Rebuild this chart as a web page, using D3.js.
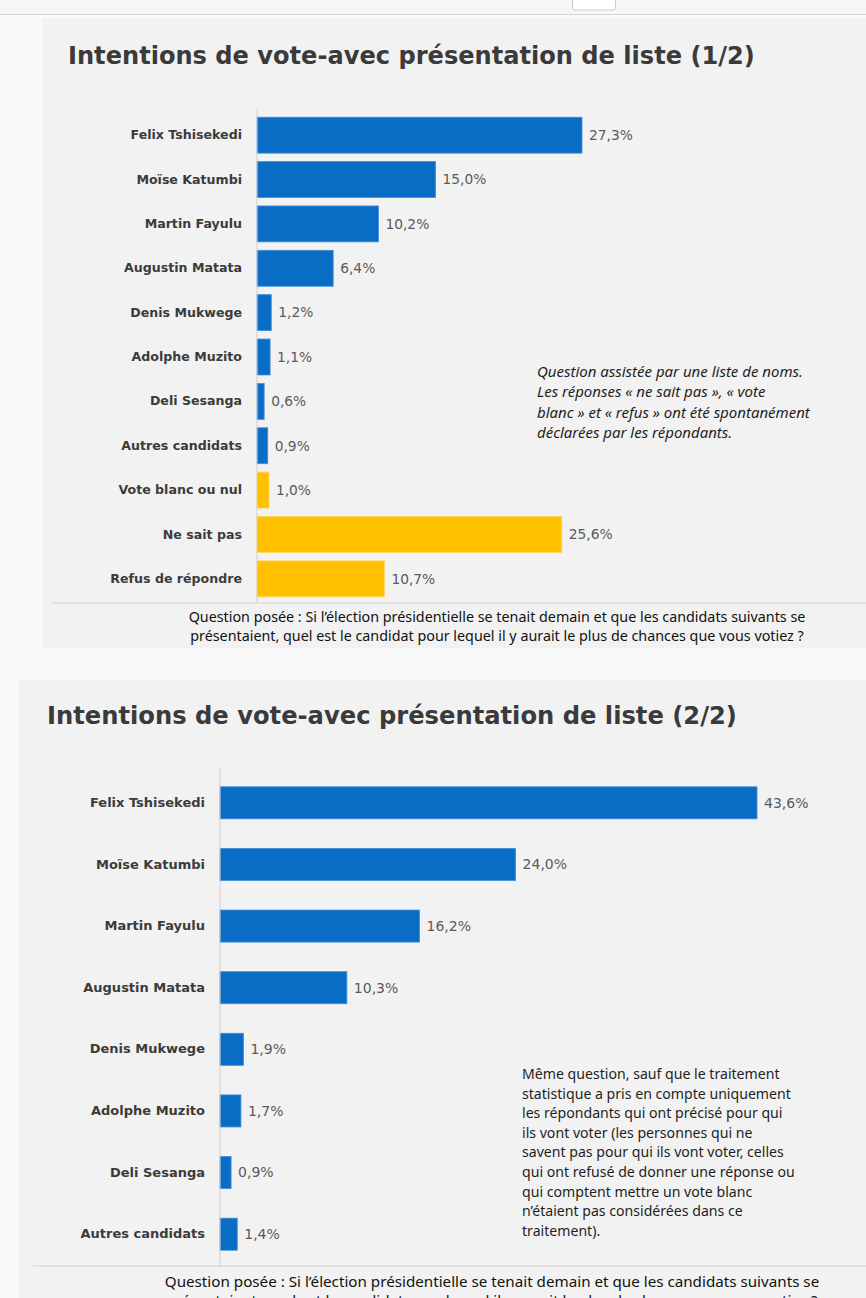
<!DOCTYPE html>
<html><head><meta charset="utf-8">
<script src="https://cdn.jsdelivr.net/npm/d3@7"></script>
<style>
html,body{margin:0;padding:0;background:#fafafa;}
svg{display:block;}
</style></head>
<body>
<svg id="c" width="866" height="1298"></svg>
<script>
// ---------- DATA ----------
const title1 = "Intentions de vote-avec présentation de liste (1/2)";
const title2 = "Intentions de vote-avec présentation de liste (2/2)";
const categories1 = ["Felix Tshisekedi","Moïse Katumbi","Martin Fayulu","Augustin Matata","Denis Mukwege","Adolphe Muzito","Deli Sesanga","Autres candidats","Vote blanc ou nul","Ne sait pas","Refus de répondre"];
const values1 = [27.3,15.0,10.2,6.4,1.2,1.1,0.6,0.9,1.0,25.6,10.7];
const kinds1 = ["c","c","c","c","c","c","c","c","n","n","n"];
const categories2 = ["Felix Tshisekedi","Moïse Katumbi","Martin Fayulu","Augustin Matata","Denis Mukwege","Adolphe Muzito","Deli Sesanga","Autres candidats"];
const values2 = [43.6,24.0,16.2,10.3,1.9,1.7,0.9,1.4];
const kinds2 = ["c","c","c","c","c","c","c","c"];
const note1 = ["Question assistée par une liste de noms.","Les réponses « ne sait pas », « vote","blanc » et « refus » ont été spontanément","déclarées par les répondants."];
const note2 = ["Même question, sauf que le traitement","statistique a pris en compte uniquement","les répondants qui ont précisé pour qui","ils vont voter (les personnes qui ne","savent pas pour qui ils vont voter, celles","qui ont refusé de donner une réponse ou","qui comptent mettre un vote blanc","n’étaient pas considérées dans ce","traitement)."];
const question = ["Question posée : Si l’élection présidentielle se tenait demain et que les candidats suivants se","présentaient, quel est le candidat pour lequel il y aurait le plus de chances que vous votiez ?"];

// ---------- STYLE ----------
const colorKind = {c:"#0a6dc5", n:"#ffc000"};
const fmt = v => d3.format(".1f")(v).replace(".", ",") + "%";
const labelFont = "'DejaVu Sans', sans-serif";
const textFont = "'Noto Sans', 'Open Sans', sans-serif";

const svg = d3.select("#c");

// browser strip
svg.append("rect").attr("x",0).attr("y",0).attr("width",866).attr("height",14).attr("fill","#f6f6f6");
svg.append("line").attr("x1",0).attr("x2",866).attr("y1",14.5).attr("y2",14.5).attr("stroke","#d4d4d4");
svg.append("rect").attr("x",572.5).attr("y",-4).attr("width",43).attr("height",14).attr("rx",2).attr("fill","#fff").attr("stroke","#ccc");

function fitWidth(sel, w){
  const node = sel.node();
  const fs = parseFloat(sel.attr("font-size"));
  const cur = node.getComputedTextLength();
  sel.attr("font-size", (fs*w/cur).toFixed(2));
}

function panel(cfg){
  const g = svg.append("g");
  g.append("rect").attr("x",cfg.bx).attr("y",cfg.by).attr("width",866-cfg.bx).attr("height",cfg.bh).attr("fill","#f2f2f2");
  const t = g.append("text").attr("x",cfg.tx).attr("y",cfg.ty).attr("font-family",labelFont)
    .attr("font-weight","bold").attr("font-size",26).attr("fill","#3a3a3a").text(cfg.title);
  fitWidth(t, cfg.tw);

  const y = d3.scaleBand().domain(cfg.cats).range(cfg.yr).paddingInner(cfg.pad).paddingOuter(cfg.pad/2);
  const x = d3.scaleLinear().domain([0,cfg.vmax]).range([cfg.x0, cfg.x1]);

  const rows = cfg.cats.map((c,i)=>({c, v:cfg.vals[i], k:cfg.kinds[i]}));
  g.selectAll("rect.bar").data(rows).join("rect").attr("class","bar")
    .attr("x",x(0)).attr("y",d=>y(d.c)).attr("width",d=>x(d.v)-x(0)).attr("height",y.bandwidth())
    .attr("fill",d=>colorKind[d.k]).attr("stroke",d=>d.k==="c"?"#3f8fd8":"#ffd35a").attr("stroke-width",0.8);

  // axis
  const ax = d3.axisLeft(y).tickSize(0).tickPadding(cfg.lpad);
  const ag = g.append("g").attr("transform",`translate(${x(0)},0)`).call(ax);
  ag.select(".domain").attr("stroke","#d0d0d0").attr("d",`M0,${cfg.yr[0]-4}V${cfg.yr[1]+2}`);
  ag.selectAll("text").attr("font-family",labelFont).attr("font-weight","bold").attr("font-size",cfg.lfs).attr("fill","#3b3b3b");

  g.selectAll("text.val").data(rows).join("text").attr("class","val")
    .attr("x",d=>x(d.v)+7).attr("y",d=>y(d.c)+y.bandwidth()/2).attr("dy","0.35em")
    .attr("font-family",labelFont).attr("font-size",cfg.vfs).attr("fill","#5a5a5a").text(d=>fmt(d.v));

  // note
  const nt = g.append("text").attr("font-family",textFont).attr("font-size",12)
    .attr("font-style",cfg.italic?"italic":"normal").attr("fill","#1e1e1e");
  const nsp = cfg.note.map((l,i)=>nt.append("tspan").attr("x",cfg.nx).attr("y",cfg.ny+i*cfg.nlh).text(l));
  const nw = nsp[cfg.nref].node().getComputedTextLength();
  nt.attr("font-size",(12*cfg.nw/nw).toFixed(2));

  // separator & question
  g.append("line").attr("x1",cfg.sx).attr("x2",866).attr("y1",cfg.sy).attr("y2",cfg.sy).attr("stroke","#cfcfcf").attr("stroke-width",1.2);
  const q = g.append("text").attr("font-family",textFont).attr("font-size",12.5).attr("fill","#111").attr("text-anchor","middle");
  const spans = question.map((l,i)=>q.append("tspan").attr("x",cfg.qx).attr("y",cfg.qy+i*cfg.qlh).text(l));
  const w0 = spans[0].node().getComputedTextLength();
  q.attr("font-size", (12.5*cfg.qw/w0).toFixed(2));
  return g;
}

panel({bx:42, by:18, bh:630, tx:68, ty:64, tw:687, title:title1,
  cats:categories1, vals:values1, kinds:kinds1, yr:[113,601], pad:0.19,
  x0:257, vmax:27.3, x1:582, lpad:15, lfs:12.6, vfs:13.8,
  note:note1, nx:537, ny:377, nlh:20.3, nref:0, nw:266, italic:true,
  sx:52, sy:603, qx:497, qy:622, qw:617, qlh:19});

panel({bx:18, by:680, bh:640, tx:47, ty:724, tw:690, title:title2,
  cats:categories2, vals:values2, kinds:kinds2, yr:[772,1265], pad:0.48,
  x0:220, vmax:43.6, x1:757, lpad:15, lfs:13, vfs:14,
  note:note2, nx:522, ny:1079, nlh:19.6, nref:1, nw:269, italic:false,
  sx:33, sy:1266, qx:492, qy:1287, qw:655, qlh:19});
</script>
</body></html>
